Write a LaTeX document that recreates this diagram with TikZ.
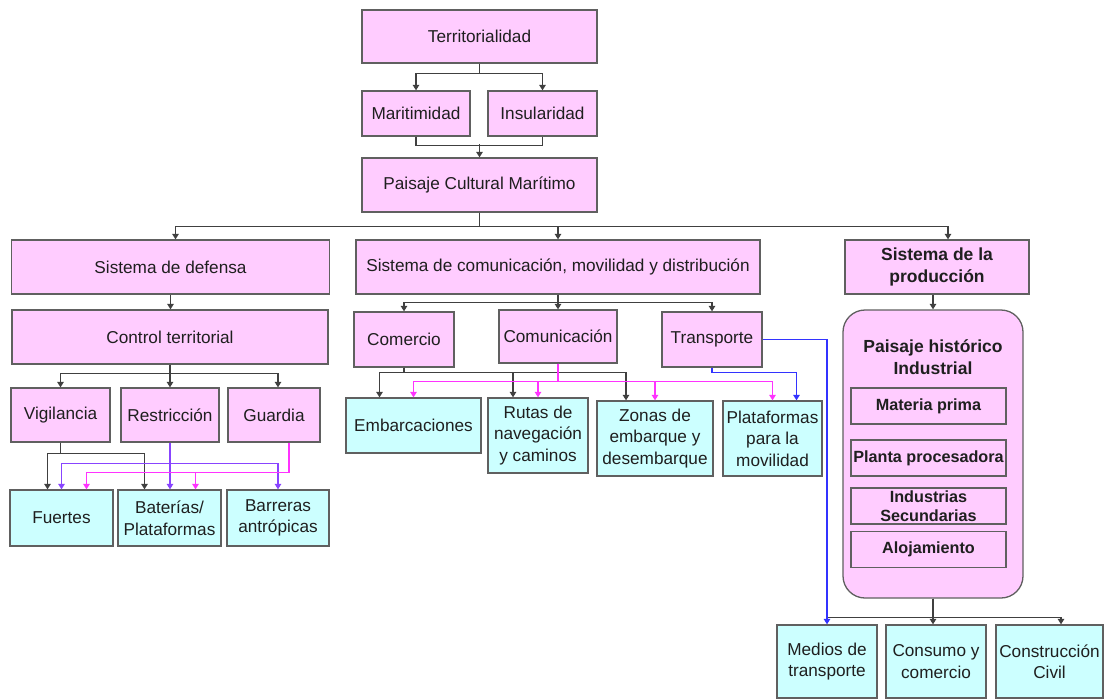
\documentclass[tikz,border=0pt]{standalone}
\usepackage{fontspec}
\setmainfont{Liberation Sans}
\usetikzlibrary{arrows.meta,calc}

\definecolor{pinkfill}{HTML}{FFCCFF}
\definecolor{cyanfill}{HTML}{CCFFFF}
\definecolor{edgegray}{HTML}{606060}
\definecolor{linkdark}{HTML}{404040}
\definecolor{linkmag}{HTML}{FF33FF}
\definecolor{linkvio}{HTML}{8844FF}
\definecolor{linkblue}{HTML}{3333FF}

\tikzset{
  every node/.style={font=\fontsize{17.2}{21.5}\selectfont, text=black!88, align=center, inner sep=1pt},
  boldtext/.style={font=\bfseries\fontsize{17.5}{21.5}\selectfont},
  innertext/.style={font=\bfseries\fontsize{16.2}{19}\selectfont},
  box/.style 2 args={draw=edgegray, line width=1.3pt, minimum width=#1, minimum height=#2},
  pbox/.style 2 args={box={#1}{#2}, fill=pinkfill},
  cbox/.style 2 args={box={#1}{#2}, fill=cyanfill},
  link/.style={draw=linkdark, line width=1.2pt},
  mlink/.style={draw=linkmag, line width=1.2pt},
  vlink/.style={draw=linkvio, line width=1.2pt},
  blink/.style={draw=linkblue, line width=1.2pt},
  arrowed/.style={-{Triangle[width=6.5pt,length=5.5pt]}},
}

\begin{document}
\begin{tikzpicture}[x=1pt,y=-1pt]
\useasboundingbox (0,0) rectangle (1105,699);
\fill[white] (0,0) rectangle (1105,699);

% upper chain
\node[pbox={235}{53}] (terr)  at (479.5,36.5) {Territorialidad};
\node[pbox={108}{45}] (marit) at (416,113.5) {Maritimidad};
\node[pbox={109}{45}] (insul) at (542.5,113.5) {Insularidad};
\node[pbox={235}{54}] (pcm)   at (479.5,185) {Paisaje Cultural Marítimo};

% three systems
\node[pbox={318}{54}] (sdef)  at (170.5,267) {Sistema de defensa};
\node[pbox={404}{54}] (scom)  at (558,267) {Sistema de comunicación, movilidad y distribución};
\node[pbox={184}{54}, boldtext] (sprod) at (937,267) {Sistema de la\\producción};

% defence branch
\node[pbox={316}{54}] (ctrl)  at (170,337) {Control territorial};
\node[pbox={99}{54}]  (vig)   at (60.5,415) {Vigilancia};
\node[pbox={98}{54}]  (restr) at (170,415) {Restricción};
\node[pbox={92}{54}]  (guard) at (274,415) {Guardia};
\node[cbox={103}{56}] (fue)   at (61.5,518) {Fuertes};
\node[cbox={103}{56}] (bat)   at (169.5,518) {Baterías/\\Plataformas};
\node[cbox={102}{56}] (barr)  at (278,518) {Barreras\\antrópicas};

% communication branch
\node[pbox={100}{55}] (comer) at (404,339.5) {Comercio};
\node[pbox={118}{53}] (comu)  at (558,336.5) {Comunicación};
\node[pbox={100}{55}] (trans) at (712,339.5) {Transporte};
\node[cbox={135}{55}] (embar) at (413.5,425.5) {Embarcaciones};
\node[cbox={100}{75}] (rutas) at (538,435.5) {Rutas de\\navegación\\y caminos};
\node[cbox={116}{75}] (zonas) at (655,438.5) {Zonas de\\embarque y\\desembarque};
\node[cbox={99}{75}]  (plat)  at (772.5,438.5) {Plataformas\\para la\\movilidad};

% production branch
\node[pbox={180}{288}, rounded corners=22pt] (phi) at (933,454) {};
\node[boldtext] (phit) at (933,357) {Paisaje histórico\\Industrial};
\node[pbox={155}{36}, innertext] (mat) at (928.5,406) {Materia prima};
\node[pbox={155}{36}, innertext] (plan) at (928.5,458) {Planta procesadora};
\node[pbox={155}{36}, innertext] (indu) at (928.5,506) {Industrias\\Secundarias};
\node[pbox={155}{36}, innertext] (aloj) at (928.5,549.5) {Alojamiento};
\node[cbox={100}{73}] (medios) at (827,661.5) {Medios de\\transporte};
\node[cbox={100}{73}] (cons)   at (936,661.5) {Consumo y\\comercio};
\node[cbox={107}{73}] (constr) at (1049.5,661.5) {Construcción\\Civil};

% upper connectors
\draw[link, arrowed] (terr.south) -- ++(0,10) -| (marit.north);
\draw[link, arrowed] (terr.south) -- ++(0,10) -| (insul.north);
\draw[link] (marit.south) -- ++(0,9) -| (insul.south);
\draw[link, arrowed] ($(pcm.north)+(0,-13)$) -- (pcm.north);
\draw[link, arrowed] (pcm.south) -- ++(0,14) -| ([xshift=5pt]sdef.north);
\draw[link, arrowed] (pcm.south) -- ++(0,14) -| (scom.north);
\draw[link, arrowed] (pcm.south) -- ++(0,14) -| ([xshift=11pt]sprod.north);

% defence connectors
\draw[link, arrowed] (sdef.south) -- (sdef.south |- ctrl.north);
\draw[link, arrowed] (ctrl.south) -- ++(0,9) -| (vig.north);
\draw[link, arrowed] (ctrl.south) -- (restr.north);
\draw[link, arrowed] (ctrl.south) -- ++(0,9) -| ([xshift=4pt]guard.north);

\draw[link, arrowed] (vig.south) -- ++(0,11) -| ([xshift=-14pt]fue.north);
\draw[link, arrowed] (vig.south) -- ++(0,11) -| ([xshift=-25pt]bat.north);
\draw[vlink, arrowed] (restr.south) -- (restr.south |- bat.north);
\draw[vlink, arrowed] (restr.south) -- ++(0,21) -| (fue.north);
\draw[vlink, arrowed] (restr.south) -- ++(0,21) -| (barr.north);
\draw[mlink, arrowed] ([xshift=15pt]guard.south) -- ++(0,30) -| ([xshift=25pt]fue.north);
\draw[mlink, arrowed] ([xshift=15pt]guard.south) -- ++(0,30) -| ([xshift=26pt]bat.north);

% communication connectors
\draw[link, arrowed] (scom.south) -- ++(0,8) -| (comer.north);
\draw[link, arrowed] (scom.south) -- (comu.north);
\draw[link, arrowed] (scom.south) -- ++(0,8) -| (trans.north);

\draw[link, arrowed] (comer.south) -- ++(0,5) -| ([xshift=-34pt]embar.north);
\draw[link, arrowed] (comer.south) -- ++(0,5) -| ([xshift=-25pt]rutas.north);
\draw[link, arrowed] (comer.south) -- ++(0,5) -| ([xshift=-29pt]zonas.north);
\draw[mlink, arrowed] (comu.south) -- ++(0,18) -| (embar.north);
\draw[mlink, arrowed] (comu.south) -- ++(0,18) -| (rutas.north);
\draw[mlink, arrowed] (comu.south) -- ++(0,18) -| (zonas.north);
\draw[mlink, arrowed] (comu.south) -- ++(0,18) -| (plat.north);
\draw[blink, arrowed] (trans.south) -- ++(0,5) -| ([xshift=24pt]plat.north);

% production connectors
\draw[link, arrowed] ([xshift=-4pt]sprod.south) -- (phi.north);
\draw[link] (phi.south) -- ++(0,19) coordinate (pbus) -- (pbus -| medios.north);
\draw[link, arrowed] (phi.south) -- (phi.south |- cons.north);
\draw[link, arrowed] (phi.south) -- ++(0,19) -| ([xshift=11.5pt]constr.north);
\draw[blink, arrowed] (trans.east) -| (medios.north);
\end{tikzpicture}
\end{document}
